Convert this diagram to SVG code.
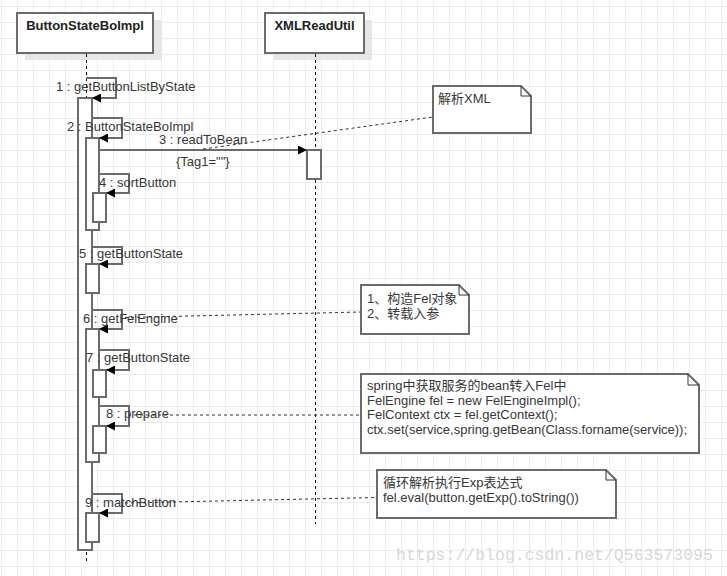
<svg xmlns="http://www.w3.org/2000/svg" width="727" height="576" viewBox="0 0 727 576">
<style>
text{font-family:"Liberation Sans","Noto Sans CJK SC",Arial,sans-serif;font-size:13px;fill:#383838}
.hdr{font-weight:bold;fill:#222;text-anchor:middle}
.box{fill:#fff;stroke:#6b6b6b;stroke-width:2}
.shadow{fill:#e6e6e6}
.bar{fill:#fff;stroke:#6b6b6b;stroke-width:2}
.life{fill:none;stroke:#111;stroke-width:1;stroke-dasharray:3 3}
.msg{fill:none;stroke:#6b6b6b;stroke-width:2}
.link{fill:none;stroke:#333;stroke-width:1;stroke-dasharray:3 3}
.note{fill:#fff;stroke:#6b6b6b;stroke-width:2}
.fold{fill:none;stroke:#333;stroke-width:1}
.wm{font-family:"Liberation Mono",monospace;font-size:16.5px;fill:#d8d8d8}
</style>
<defs>
<pattern id="grid" x="1" y="6" width="16" height="16" patternUnits="userSpaceOnUse">
<path d="M0.5 0V16M0 0.5H16" stroke="#ececec" stroke-width="1" fill="none"/>
</pattern>
<marker id="ah" viewBox="0 0 10 10" refX="10" refY="5" markerWidth="11" markerHeight="9" markerUnits="userSpaceOnUse" orient="auto">
<path d="M0,0L10,5L0,10z" fill="#000"/>
</marker>
</defs>
<rect width="727" height="576" fill="#fff"/>
<rect width="727" height="576" fill="url(#grid)"/>

<g id="lifeline-ButtonStateBoImpl">
<rect class="shadow" x="25" y="20" width="137" height="40"/>
<rect class="box" x="17" y="13" width="136" height="40"/>
<text class="hdr" x="85" y="30">ButtonStateBoImpl</text>
<line class="life" x1="86.5" y1="54" x2="86.5" y2="564"/>
</g>
<g id="lifeline-XMLReadUtil">
<rect class="shadow" x="273" y="20" width="99" height="40"/>
<rect class="box" x="265" y="13" width="99" height="40"/>
<text class="hdr" x="314.5" y="30">XMLReadUtil</text>
<line class="life" x1="315.5" y1="54" x2="315.5" y2="524"/>
</g>

<g id="activations">
<rect class="bar" x="78" y="98" width="14" height="452"/>
<rect class="bar" x="86" y="138" width="13" height="92"/>
<rect class="bar" x="93" y="193" width="13" height="29"/>
<rect class="bar" x="86" y="264" width="13" height="29"/>
<rect class="bar" x="86" y="329" width="13" height="133"/>
<rect class="bar" x="93" y="370" width="13" height="27"/>
<rect class="bar" x="93" y="426" width="13" height="27"/>
<rect class="bar" x="86" y="513" width="13" height="29"/>
<rect class="bar" x="307" y="150" width="14" height="29"/>
</g>

<g id="connectors">
<path class="msg" d="M86,78H116V98H92" marker-end="url(#ah)"/>
<path class="msg" d="M92,118H122V138H99" marker-end="url(#ah)"/>
<path class="msg" d="M99,150H307" marker-end="url(#ah)"/>
<path class="msg" d="M99,174H129V193H106" marker-end="url(#ah)"/>
<path class="msg" d="M92,247H122V264H99" marker-end="url(#ah)"/>
<path class="msg" d="M92,310H122V329H99" marker-end="url(#ah)"/>
<path class="msg" d="M99,350H129V370H106" marker-end="url(#ah)"/>
<path class="msg" d="M99,406H129V426H106" marker-end="url(#ah)"/>
<path class="msg" d="M92,494H122V513H99" marker-end="url(#ah)"/>
<line class="link" x1="203" y1="149" x2="433" y2="117"/>
<line class="link" x1="125" y1="317.5" x2="361" y2="312"/>
<line class="link" x1="128" y1="415" x2="361" y2="415"/>
<line class="link" x1="125" y1="503" x2="377" y2="497.5"/>
</g>

<g id="labels">
<text x="56" y="91">1 : getButtonListByState</text>
<text x="67" y="131">2 : ButtonStateBoImpl</text>
<text x="159" y="144">3 : readToBean</text>
<text x="176" y="166">{Tag1=""}</text>
<text x="99" y="187">4 : sortButton</text>
<text x="79" y="258">5 : getButtonState</text>
<text x="83" y="323">6 : getFelEngine</text>
<text x="86" y="362">7 : getButtonState</text>
<text x="106" y="418">8 : prepare</text>
<text x="85" y="507">9 : matchButton</text>
</g>

<g id="note-xml">
<path class="note" d="M433,86H521L531,96V133H433Z"/>
<path class="fold" d="M521,86V96H531"/>
<text x="438" y="103">解析XML</text>
</g>
<g id="note-fel">
<path class="note" d="M361,285H459L469,295V334H361Z"/>
<path class="fold" d="M459,285V295H469"/>
<text x="367" y="303">1、构造Fel对象</text>
<text x="367" y="318">2、转载入参</text>
</g>
<g id="note-spring">
<path class="note" d="M361,374H688L699,385V453H361Z"/>
<path class="fold" d="M688,374V385H699"/>
<text x="367" y="390">spring中获取服务的bean转入Fel中</text>
<text x="367" y="405">FelEngine fel = new FelEngineImpl();</text>
<text x="367" y="419">FelContext ctx = fel.getContext();</text>
<text x="367" y="434">ctx.set(service,spring.getBean(Class.forname(service));</text>
</g>
<g id="note-eval">
<path class="note" d="M377,470H606L616,480V518H377Z"/>
<path class="fold" d="M606,470V480H616"/>
<text x="383" y="487">循环解析执行Exp表达式</text>
<text x="383" y="502">fel.eval(button.getExp().toString())</text>
</g>

<text class="wm" x="396" y="560">https://blog.csdn.net/Q563573095</text>
</svg>
